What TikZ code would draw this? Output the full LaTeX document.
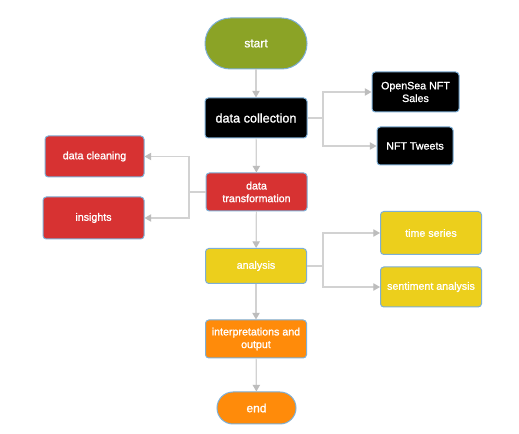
\documentclass[tikz,border=0pt]{standalone}
\usepackage{fontspec}
\setmainfont{Liberation Sans}
\newfontface\lab{Liberation Sans}[FakeBold=1.2]
\usetikzlibrary{arrows.meta}
\definecolor{cgreen}{HTML}{8BA326}
\definecolor{cred}{HTML}{D73232}
\definecolor{cyellow}{HTML}{ECCF1C}
\definecolor{corange}{HTML}{FF8B0A}
\definecolor{cborder}{HTML}{7DAFD6}
\definecolor{cline}{HTML}{D2D2D2}
\definecolor{ctip}{HTML}{BDBDBD}
\begin{document}
\begin{tikzpicture}[x=0.75pt,y=-0.75pt,
  box/.style={draw=cborder,line width=0.75pt,rounded corners=2.5pt,text=white,align=center,
    font=\lab\fontsize{8}{9.5}\selectfont,inner sep=1pt},
  term/.style={box,rounded corners=#1},
  conn/.style={draw=cline,line width=0.9pt,-{Triangle[width=5.5pt,length=5pt,color=ctip]}},
  link/.style={draw=cline,line width=0.9pt}]
\useasboundingbox (0,0) rectangle (519,434);
\fill[white] (0,0) rectangle (519,434);
\node[term=19pt,fill=cgreen,minimum width=76.5pt,minimum height=38.25pt,font=\lab\fontsize{9}{11}\selectfont] (start) at (256,43.5) {start};
\node[box,fill=black,minimum width=76.5pt,minimum height=30pt,font=\lab\fontsize{9.5}{11}\selectfont] (dc) at (256,118) {data collection};
\node[box,fill=black,minimum width=65.25pt,minimum height=30pt] (os) at (415.5,92) {OpenSea NFT\\Sales};
\node[box,fill=black,minimum width=57pt,minimum height=28.5pt] (tw) at (415,146) {NFT Tweets};
\node[box,fill=cred,minimum width=75.75pt,minimum height=28.5pt] (dt) at (256.5,192) {data\\transformation};
\node[box,fill=cred,minimum width=74.25pt,minimum height=30.75pt] (clean) at (94.5,156.5) {data cleaning};
\node[box,fill=cred,minimum width=75.75pt,minimum height=31.5pt] (ins) at (93.5,218) {insights};
\node[box,fill=cyellow,minimum width=75.75pt,minimum height=26.25pt] (an) at (256,266) {analysis};
\node[box,fill=cyellow,minimum width=75.75pt,minimum height=32.25pt] (ts) at (431,233) {time series};
\node[box,fill=cyellow,minimum width=75.75pt,minimum height=30pt] (sa) at (431,287) {sentiment analysis};
\node[box,fill=corange,minimum width=75.75pt,minimum height=28.5pt] (io) at (256,339) {interpretations and\\output};
\node[term=12pt,fill=corange,minimum width=59.25pt,minimum height=24pt,font=\lab\fontsize{9}{11}\selectfont] (end) at (256.5,408) {end};
\coordinate (j1) at (323,118);
\coordinate (j2) at (189,192);
\coordinate (j3) at (323,266);
\draw[conn] (start) -- (dc);
\draw[conn] (dc) -- (dt);
\draw[conn] (dt) -- (an);
\draw[conn] (an) -- (io);
\draw[conn] (io) -- (end);
\draw[link] (dc.east) -- (j1);
\draw[conn] (j1) |- (os.west);
\draw[conn] (j1) |- (tw.west);
\draw[link] (dt.west) -- (j2);
\draw[conn] (j2) |- (clean.east);
\draw[conn] (j2) |- (ins.east);
\draw[link] (an.east) -- (j3);
\draw[conn] (j3) |- (ts.west);
\draw[conn] (j3) |- (sa.west);
\end{tikzpicture}
\end{document}
